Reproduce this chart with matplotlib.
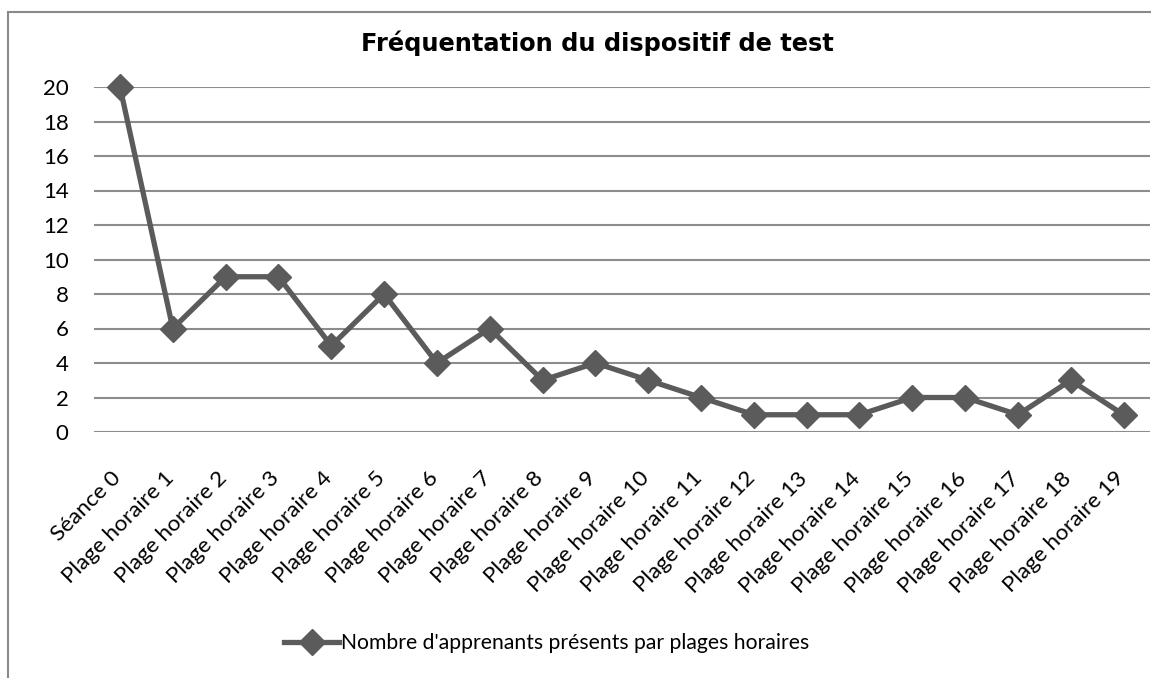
import matplotlib
matplotlib.use("Agg")
import matplotlib.pyplot as plt
from matplotlib.patches import Rectangle
from matplotlib.transforms import ScaledTranslation

categories = ["Séance 0"] + [f"Plage horaire {i}" for i in range(1, 20)]
values = [20, 6, 9, 9, 5, 8, 4, 6, 3, 4, 3, 2, 1, 1, 1, 2, 2, 1, 3, 1]
series_name = "Nombre d'apprenants présents par plages horaires"
title = "Fréquentation du dispositif de test"
yticks = list(range(0, 21, 2))

W, H = 1151, 678
fig = plt.figure(figsize=(W / 100, H / 100), dpi=100)
fig.patch.set_facecolor("white")

# outer chart frame (cut at right/bottom like the reference)
fig.patches.append(Rectangle((8 / W, -0.05), 1.2, 1 - 12 / H + 0.05,
                             transform=fig.transFigure, fill=False,
                             edgecolor="#8a8a8a", linewidth=1.5))

left, right = 93.6 / W, 1150 / W
bottom, top = 1 - 432 / H, 1 - 87 / H
ax = fig.add_axes([left, bottom, right - left, top - bottom])

x = list(range(len(categories)))
color = "#5b5b5b"
ax.plot(x, values, color=color, linewidth=3.8, marker="D", markersize=13,
        markeredgecolor=color, markerfacecolor=color, clip_on=False, zorder=3,
        label=series_name)

ax.set_xlim(-0.5, len(categories) - 0.5)
ax.set_ylim(0, 20)
ax.set_yticks(yticks)
ax.set_yticklabels([str(v) for v in yticks])
ax.set_xticks(x)
ax.set_xticklabels(categories, rotation=45, ha="right", va="top",
                   rotation_mode="default")
for s in ax.spines.values():
    s.set_visible(False)
ax.grid(axis="y", color="#8c8c8c", linewidth=1.5)
ax.set_axisbelow(True)
ax.tick_params(axis="y", length=0, labelsize=16, labelcolor="black", pad=18)
ax.tick_params(axis="x", length=0, labelsize=16.2, labelcolor="black", pad=26)
shift = ScaledTranslation(5 / 100, 0, fig.dpi_scale_trans)
for lbl in ax.get_xticklabels():
    lbl.set_transform(lbl.get_transform() + shift)
for lbl in ax.get_xticklabels() + ax.get_yticklabels():
    lbl.set_fontfamily("Lato")

fig.text(597 / W, 1 - 43 / H, title, ha="center", va="center",
         fontsize=17.3, fontweight="bold", family="DejaVu Sans")

leg = fig.legend(loc="center", bbox_to_anchor=(0.475, 1 - 643 / H),
                 frameon=False, handlelength=2.6, handletextpad=0.1,
                 prop={"family": "Lato", "size": 15.2})

fig.savefig("out.png", dpi=100)
